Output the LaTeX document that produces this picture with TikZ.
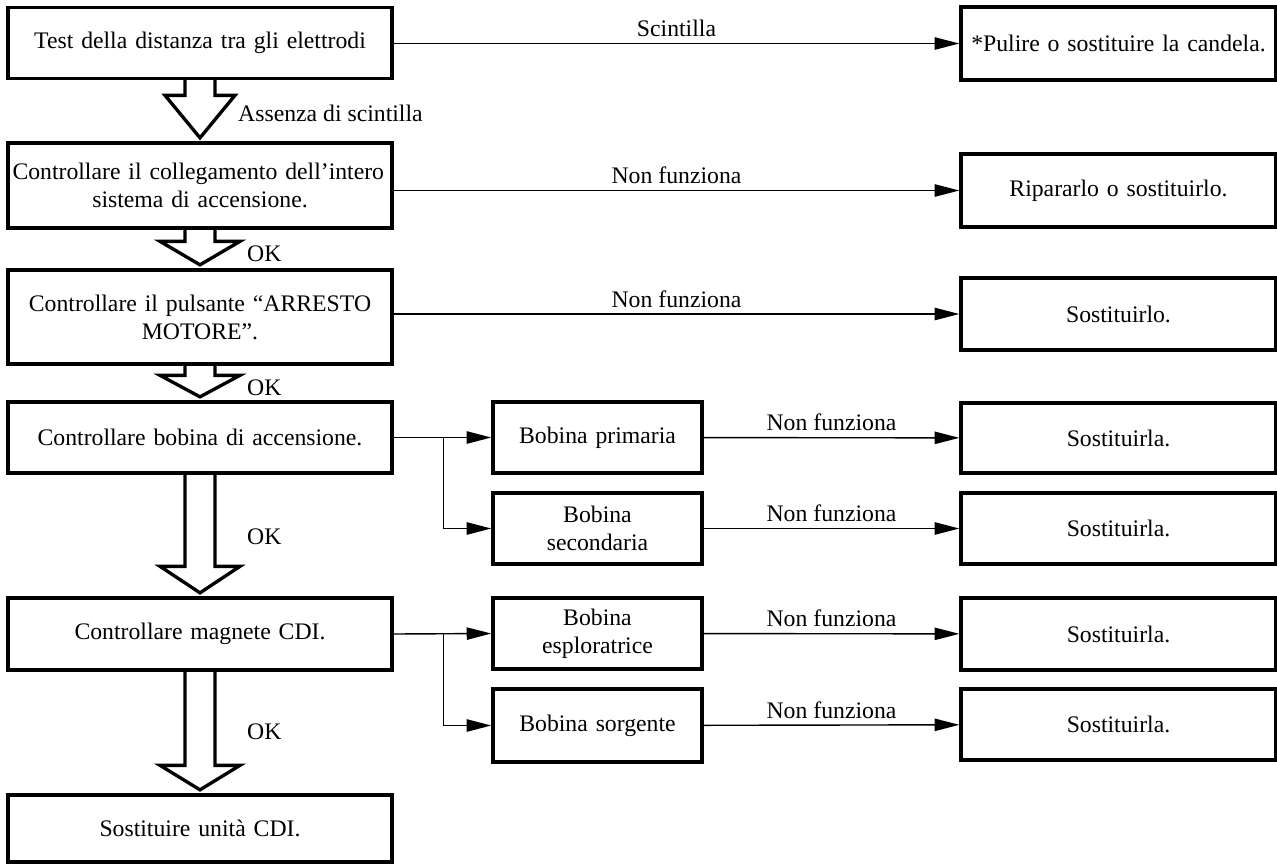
\documentclass[tikz,border=0pt]{standalone}
\usepackage{fontspec}
\setmainfont{Liberation Serif}
\usepackage{tikz}
\usetikzlibrary{positioning, arrows.meta, calc}

\tikzset{
  box/.style={rectangle, draw, line width=1.9pt, align=center, inner xsep=2.5pt, inner ysep=2pt,
    font=\fontsize{13.5}{16}\selectfont},
  leftbox/.style={box, text width=7.5cm, minimum width=7.68cm},
  midbox/.style={box, text width=4cm, minimum width=4.18cm, minimum height=1.42cm},
  rightbox/.style={box, text width=6.1cm, minimum width=6.3cm, minimum height=1.44cm},
  link/.style={line width=0.8pt, -{Triangle[length=14pt, width=7pt]}},
  lbl/.style={font=\fontsize{13.5}{16}\selectfont},
  bigarrow/.style={draw, line width=1.9pt, line join=miter}
}

\newcommand{\bigarrow}[4]{%
  \draw[bigarrow] ($(#1.south)+(-0.3,0)$) -- ($(#2.north)+(-0.3,#3)$) -- ($(#2.north)+(-#4,#3)$)
    -- ($(#2.north)+(0,0.07)$) -- ($(#2.north)+(#4,#3)$) -- ($(#2.north)+(0.3,#3)$) -- ($(#1.south)+(0.3,0)$);}

\begin{document}
\begin{tikzpicture}[node distance=1cm, auto]
    \useasboundingbox (0,0) rectangle (25.54,-17.28);

    \node (test) [leftbox, minimum height=1.42cm] at (4,-0.86) {Test della distanza tra gli elettrodi};
    \node (coll) [leftbox, minimum height=1.7cm] at (4,-3.71) {\makebox[7.5cm][s]{Controllare il collegamento dell’intero}\\sistema di accensione.};
    \node (puls) [leftbox, minimum height=1.88cm] at (4,-6.34) {Controllare il pulsante “ARRESTO\\MOTORE”.};
    \node (bobina) [leftbox, minimum height=1.42cm] at (4,-8.75) {Controllare bobina di accensione.};
    \node (magnete) [leftbox, minimum height=1.44cm] at (4,-12.68) {Controllare magnete CDI.};
    \node (cdi) [leftbox, minimum height=1.34cm] at (4,-16.57) {Sostituire unità CDI.};

    \node (primaria) [midbox] at (11.95,-8.75) {Bobina primaria};
    \node (secondaria) [midbox] at (11.95,-10.57) {Bobina\\secondaria};
    \node (esplor) [midbox] at (11.95,-12.67) {Bobina\\esploratrice};
    \node (sorgente) [midbox, minimum height=1.46cm] at (11.95,-14.51) {Bobina sorgente};

    \node (candela) [rightbox, minimum height=1.46cm] at (22.37,-0.87) {*Pulire o sostituire la candela.};
    \node (riparare) [rightbox, minimum height=1.46cm] at (22.37,-3.81) {Ripararlo o sostituirlo.};
    \node (sostpuls) [rightbox] at (22.37,-6.28) {Sostituirlo.};
    \node (sostprim) [rightbox, minimum height=1.4cm] at (22.37,-8.76) {Sostituirla.};
    \node (sostsec) [rightbox, minimum height=1.42cm] at (22.37,-10.57) {Sostituirla.};
    \node (sostespl) [rightbox] at (22.37,-12.68) {Sostituirla.};
    \node (sostsorg) [rightbox, minimum height=1.42cm] at (22.37,-14.49) {Sostituirla.};

    \draw[link] (candela.west -| test.east) -- node[lbl, above] {Scintilla} (candela.west);
    \draw[link] (riparare.west -| coll.east) -- node[lbl, above] {Non funziona} (riparare.west);
    \draw[link] (sostpuls.west -| puls.east) -- node[lbl, above] {Non funziona} (sostpuls.west);
    \draw[link] (primaria) -- node[lbl, above] {Non funziona} (sostprim);
    \draw[link] (secondaria) -- node[lbl, above] {Non funziona} (sostsec);
    \draw[link] (esplor) -- node[lbl, above] {Non funziona} (sostespl);
    \draw[link] (sorgente) -- node[lbl, above] {Non funziona} (sostsorg);

    \coordinate (split1) at ($(bobina.east)+(1,0)$);
    \coordinate (split2) at ($(magnete.east)+(1,0)$);
    \draw[link] (bobina.east) -- (primaria.west);
    \draw[link] (split1) |- (secondaria.west);
    \draw[link] (magnete.east) -- (esplor.west);
    \draw[link] (split2) |- (sorgente.west);

    \bigarrow{test}{coll}{0.92}{0.7}
    \bigarrow{coll}{puls}{0.54}{0.8}
    \bigarrow{puls}{bobina}{0.5}{0.8}
    \bigarrow{bobina}{magnete}{0.6}{0.8}
    \bigarrow{magnete}{cdi}{0.56}{0.8}

    \node (assenza) [lbl, anchor=west] at (4.64,-2.26) {Assenza di scintilla};
    \node (ok1) [lbl, anchor=west] at (4.82,-5.08) {OK};
    \node (ok2) [lbl, anchor=west] at (4.82,-7.76) {OK};
    \node (ok3) [lbl, anchor=west] at (4.82,-10.74) {OK};
    \node (ok4) [lbl, anchor=west] at (4.82,-14.64) {OK};
\end{tikzpicture}
\end{document}
